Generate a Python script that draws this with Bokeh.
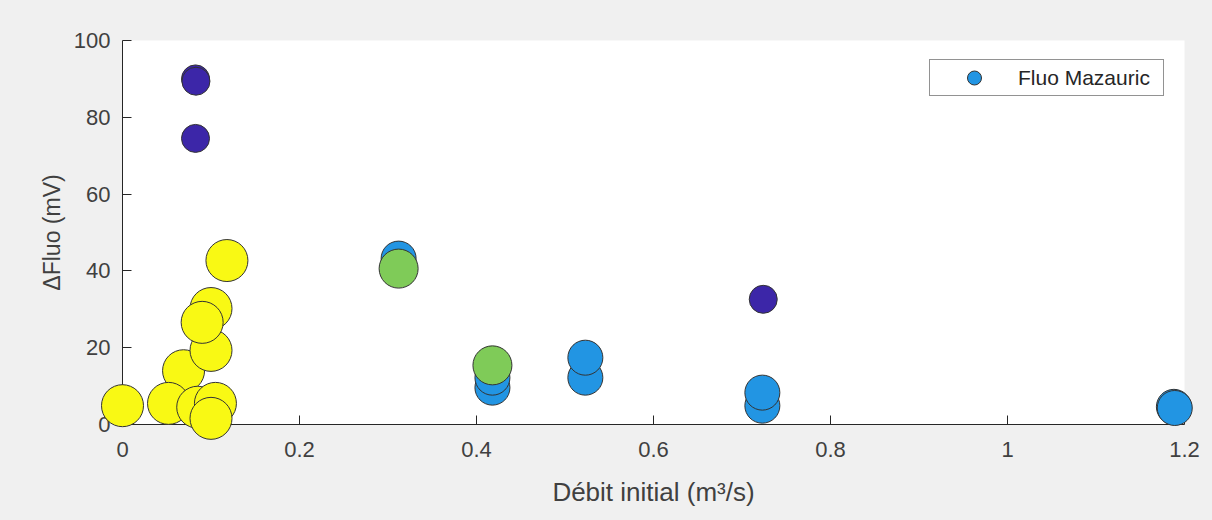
from bokeh.plotting import figure
from bokeh.models import Range1d, FixedTicker, Legend, LegendItem, BoxAnnotation
from bokeh.embed import file_html
from bokeh.resources import INLINE

# ---- data ----
x_bleu = [0.312, 0.418, 0.418, 0.523, 0.523, 0.723, 0.723, 1.188, 1.189]
y_bleu = [43.2, 9.6, 12.2, 12.2, 17.4, 4.9, 8.3, 4.6, 4.3]
x_vert = [0.312, 0.418]
y_vert = [40.6, 15.4]
x_violet = [0.0825, 0.083, 0.0825, 0.724]
y_violet = [90.0, 89.4, 74.5, 32.6]
x_jaune = [0.0, 0.069, 0.052, 0.085, 0.105, 0.100, 0.100, 0.090, 0.118, 0.100]
y_jaune = [4.9, 14.0, 5.5, 4.5, 5.5, 19.3, 30.2, 26.6, 42.7, 1.6]
legend_label = "Fluo Mazauric"
x_lim = (0.0, 1.2)
y_lim = (0.0, 100.0)
x_ticks = [0, 0.2, 0.4, 0.6, 0.8, 1.0, 1.2]
x_tick_labels = ["0", "0.2", "0.4", "0.6", "0.8", "1", "1.2"]
y_ticks = [0, 20, 40, 60, 80, 100]

# ---- styles ----
styles = {
    "bleu": dict(color="#2295E3", size=35),
    "vert": dict(color="#7FCB58", size=39),
    "violet": dict(color="#3C26A8", size=28),
    "jaune": dict(color="#F9F914", size=42),
}
data = {
    "bleu": (x_bleu, y_bleu),
    "vert": (x_vert, y_vert),
    "violet": (x_violet, y_violet),
    "jaune": (x_jaune, y_jaune),
}

FONT = "Liberation Sans"
TXT = "#262626"
LBL = "#404040"

# axes box in pixels inside the 1212x520 canvas (markers are not clipped at the axes)
W, H = 1212, 520
AX_L, AX_R, AX_T, AX_B = 122, 1184, 40, 424
sx = (x_lim[1] - x_lim[0]) / (AX_R - AX_L)
sy = (y_lim[1] - y_lim[0]) / (AX_B - AX_T)
xr = Range1d(x_lim[0] - AX_L * sx, x_lim[1] + (W - AX_R) * sx)
yr = Range1d(y_lim[0] - (H - AX_B) * sy, y_lim[1] + AX_T * sy)

p = figure(width=W, height=H, output_backend="svg", toolbar_location=None,
           x_range=xr, y_range=yr,
           min_border_left=0, min_border_right=0, min_border_top=0, min_border_bottom=0)
p.border_fill_color = "#f0f0f0"
p.background_fill_color = "#f0f0f0"
p.outline_line_color = None
p.grid.visible = False

p.add_layout(BoxAnnotation(left=x_lim[0], right=x_lim[1], bottom=y_lim[0], top=y_lim[1],
                           fill_color="white", fill_alpha=1, line_color=None, level="image"))

renderers = {}
for name in ["bleu", "vert", "violet", "jaune"]:
    xs, ys = data[name]
    st = styles[name]
    renderers[name] = p.scatter(xs, ys, size=st["size"], fill_color=st["color"],
                                line_color="#333333", line_width=1, marker="circle")

legend = Legend(items=[LegendItem(label=legend_label, renderers=[renderers["bleu"]], index=0)],
                location=(929, H - 96))
legend.border_line_color = "#262626"
legend.border_line_width = 1
legend.background_fill_color = "white"
legend.background_fill_alpha = 1
legend.label_text_font = FONT
legend.label_text_font_size = "21px"
legend.label_text_color = TXT
legend.glyph_width = 88
legend.glyph_height = 35
legend.padding = 0
legend.margin = 0
legend.label_standoff = 0
legend.label_width = 145
legend.spacing = 0
p.add_layout(legend)

for ax in (p.xaxis, p.yaxis):
    ax.level = "underlay"
    ax.axis_line_color = TXT
    ax.major_tick_line_color = TXT
    ax.major_tick_in = 9
    ax.major_tick_out = 0
    ax.minor_tick_line_color = None
    ax.major_label_text_font = FONT
    ax.major_label_text_font_size = "22px"
    ax.major_label_text_color = LBL
    ax.axis_label_text_font = FONT
    ax.axis_label_text_font_style = "normal"
    ax.axis_label_text_color = LBL

p.xaxis.fixed_location = y_lim[0]
p.yaxis.fixed_location = x_lim[0]
p.xaxis.bounds = x_lim
p.yaxis.bounds = y_lim
p.xaxis.axis_label_text_font_size = "26px"
p.yaxis.axis_label_text_font_size = "23px"
p.xaxis.ticker = FixedTicker(ticks=x_ticks)
p.xaxis.major_label_overrides = {t: l for t, l in zip(x_ticks, x_tick_labels)}
p.yaxis.ticker = FixedTicker(ticks=y_ticks)
p.xaxis.axis_label = "Débit initial (m³/s)"
p.yaxis.axis_label = "ΔFluo (mV)"
p.xaxis.major_label_standoff = 17
p.yaxis.major_label_standoff = 12
p.xaxis.axis_label_standoff = 17
p.yaxis.axis_label_standoff = 6

html = file_html(p, INLINE)
html = html.replace("</head>",
                    "<style>html,body{background:#f0f0f0;margin:0;padding:0;overflow:hidden}</style></head>", 1)
open("out.html", "w").write(html)
